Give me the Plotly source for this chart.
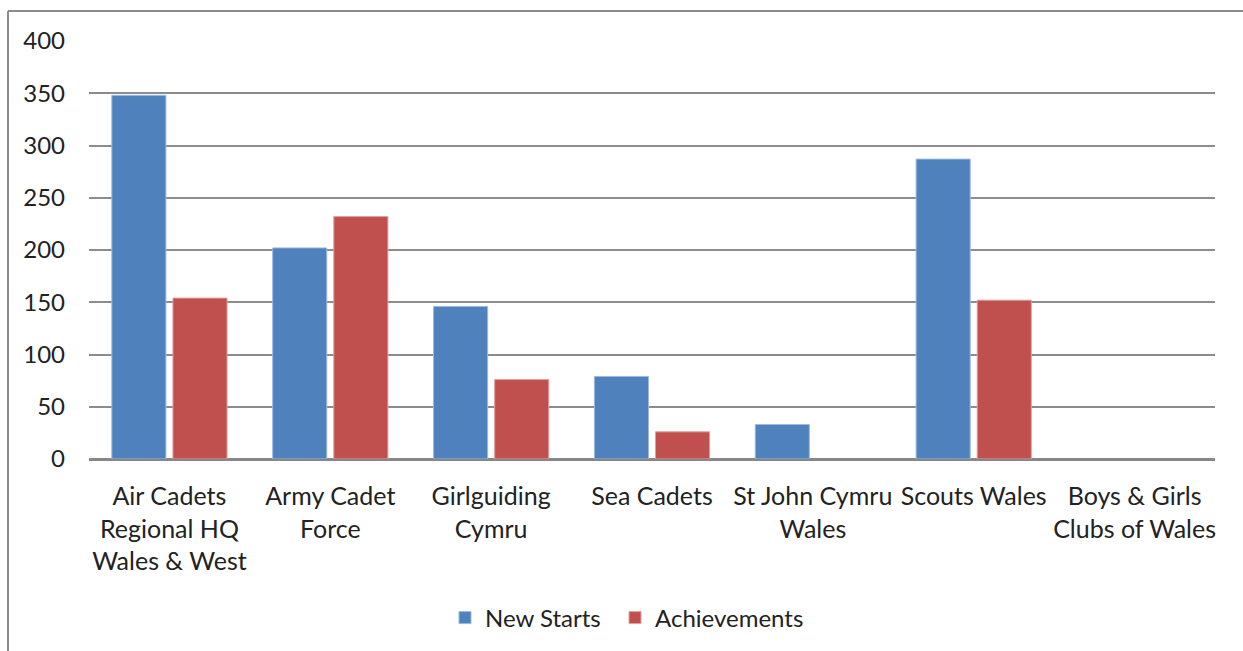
import plotly.graph_objects as go

categories = [
    "Air Cadets<br>Regional HQ<br>Wales & West",
    "Army Cadet<br>Force",
    "Girlguiding<br>Cymru",
    "Sea Cadets",
    "St John Cymru<br>Wales",
    "Scouts Wales",
    "Boys & Girls<br>Clubs of Wales",
]
new_starts = [348, 202, 146, 79, 33, 287, 0]
achievements = [154, 232, 76, 26, 0, 152, 0]
y_ticks = [0, 50, 100, 150, 200, 250, 300, 350, 400]

W, H = 1243, 651
L, R, T, B = 89, 28, 41, 192
pw, ph = W - L - R, H - T - B

def px_x(px):
    return (px - L) / pw

def px_y(py):
    return (H - B - py) / ph

FONT = "Lato"
TXT = "#222222"
fig = go.Figure()
fig.add_trace(go.Bar(
    name="New Starts", x=categories, y=new_starts, legend="legend",
    marker=dict(color="#4F81BD",
                line=dict(color="#9DB9DE", width=[1 if v > 0 else 0 for v in new_starts])),
))
fig.add_trace(go.Bar(
    name="Achievements", x=categories, y=achievements, legend="legend2",
    marker=dict(color="#C0504D",
                line=dict(color="#E0A09E", width=[1 if v > 0 else 0 for v in achievements])),
))

leg_common = dict(orientation="h", xanchor="left", y=px_y(618), yanchor="middle",
                  font=dict(family=FONT, size=24, color=TXT), itemwidth=30,
                  bgcolor="rgba(0,0,0,0)")

fig.update_layout(
    width=W, height=H,
    margin=dict(l=L, r=R, t=T, b=B, autoexpand=False),
    paper_bgcolor="white", plot_bgcolor="white",
    barmode="group", bargap=0.24, bargroupgap=0.115,
    font=dict(family=FONT, size=24, color=TXT),
    showlegend=True,
    legend=dict(x=px_x(445), **leg_common),
    legend2=dict(x=px_x(615), **leg_common),
    xaxis=dict(showgrid=False, ticks="", showline=False,
               tickfont=dict(family=FONT, size=25, color=TXT),
               ticklabelstandoff=20, automargin=False, fixedrange=True),
    yaxis=dict(range=[0, 400], tickvals=y_ticks, showgrid=True,
               gridcolor="#8C8C8C", gridwidth=2, zeroline=True,
               zerolinecolor="#878787", zerolinewidth=3, showline=False,
               ticks="", tickfont=dict(family=FONT, size=24, color=TXT),
               ticklabelstandoff=23, automargin=False, fixedrange=True),
    shapes=[
        dict(type="line", xref="paper", yref="paper",
             x0=px_x(8), x1=px_x(8), y0=px_y(11), y1=px_y(700),
             line=dict(color="#8A8A8A", width=2)),
        dict(type="line", xref="paper", yref="paper",
             x0=px_x(8), x1=px_x(1300), y0=px_y(11), y1=px_y(11),
             line=dict(color="#8A8A8A", width=2)),
    ],
)

fig.write_html("out.html", config={"displayModeBar": False},
               post_script="document.body.style.margin='0';document.body.style.overflow='hidden';")
